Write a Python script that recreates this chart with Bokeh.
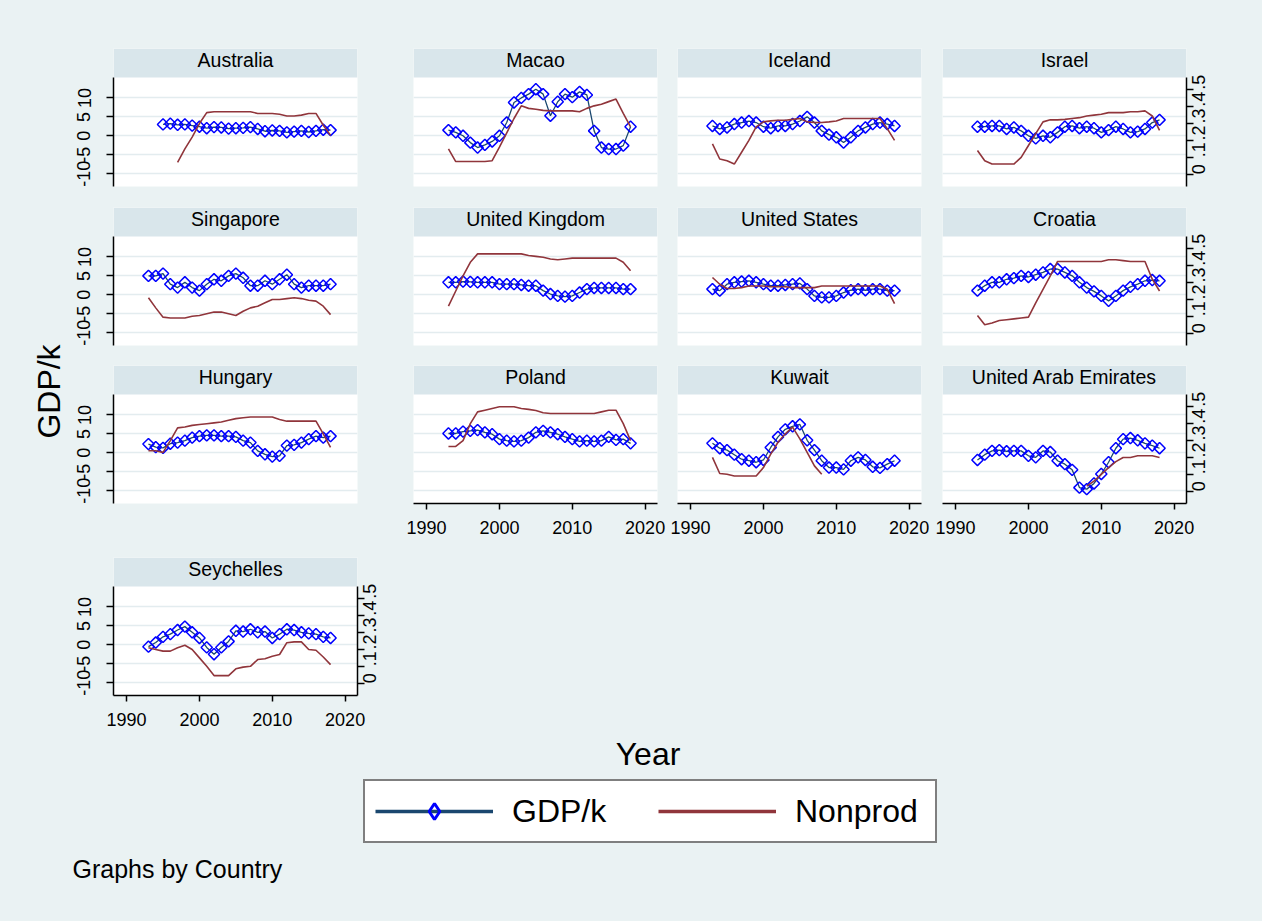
import math
import numpy as np
from bokeh.plotting import figure
from bokeh.models import (Range1d, LinearAxis, FixedTicker, Grid, BoxAnnotation,
                          Legend, LegendItem, ColumnDataSource)
from bokeh.layouts import row, column
from bokeh.embed import file_html
from bokeh.resources import INLINE
from bokeh.core.properties import value

# ---------------- data ----------------
YEARS = [1993, 1994, 1995, 1996, 1997, 1998, 1999, 2000, 2001, 2002, 2003, 2004, 2005,
         2006, 2007, 2008, 2009, 2010, 2011, 2012, 2013, 2014, 2015, 2016, 2017, 2018]

COUNTRIES = ["Australia", "Macao", "Iceland", "Israel",
             "Singapore", "United Kingdom", "United States", "Croatia",
             "Hungary", "Poland", "Kuwait", "United Arab Emirates",
             "Seychelles"]

GDP_AUSTRALIA = [None, None, 3.0, 3.2, 2.9, 3.0, 2.7, 2.4, 2.0, 2.3, 2.2, 1.9, 2.0, 2.1, 2.3, 1.8, 1.2, 1.4, 1.3, 0.9, 1.1, 1.3, 1.0, 1.3, 1.6, 1.5]
NP_AUSTRALIA = [None, None, None, None, 0.07, 0.15, 0.22, 0.30, 0.365, 0.37, 0.37, 0.37, 0.37, 0.37, 0.37, 0.36, 0.36, 0.36, 0.355, 0.345, 0.345, 0.35, 0.36, 0.36, 0.29, 0.23]

GDP_MACAO = [1.5, 0.9, 0.0, -1.8, -3.1, -2.4, -1.5, 0.0, 3.5, 8.8, 10.0, 11.0, 12.3, 11.0, 5.3, 9.0, 11.0, 10.2, 11.6, 10.8, 1.3, -3.1, -3.5, -3.5, -2.6, 2.4]
NP_MACAO = [0.15, 0.075, 0.075, 0.075, 0.075, 0.075, 0.08, 0.16, 0.245, 0.33, 0.405, 0.39, 0.385, 0.378, 0.375, 0.375, 0.375, 0.375, 0.37, 0.39, 0.405, 0.415, 0.43, 0.445, 0.36, 0.28]

GDP_ICELAND = [2.6, 1.8, 2.2, 3.1, 3.5, 3.9, 3.5, 2.4, 2.0, 2.6, 2.6, 3.1, 3.9, 5.0, 3.5, 1.3, 0.3, -0.4, -1.8, -0.4, 1.3, 2.2, 3.1, 3.5, 3.1, 2.6]
NP_ICELAND = [0.18, 0.09, 0.08, 0.06, 0.13, 0.20, 0.28, 0.31, 0.316, 0.32, 0.32, 0.325, 0.33, 0.31, 0.306, 0.306, 0.31, 0.315, 0.33, 0.33, 0.33, 0.33, 0.33, 0.33, 0.27, 0.20]

GDP_ISRAEL = [2.4, 2.4, 2.6, 2.6, 1.8, 2.2, 1.3, 0.0, -0.7, 0.0, -0.4, 0.9, 2.4, 2.6, 2.0, 2.4, 2.0, 0.9, 1.5, 2.4, 1.8, 0.9, 1.1, 1.8, 3.5, 4.2]
NP_ISRAEL = [0.14, 0.08, 0.06, 0.06, 0.06, 0.06, 0.10, 0.17, 0.24, 0.31, 0.322, 0.322, 0.325, 0.33, 0.335, 0.345, 0.35, 0.355, 0.365, 0.365, 0.365, 0.37, 0.37, 0.375, 0.345, 0.26]

GDP_SINGAPORE = [5.0, 5.0, 5.6, 2.8, 1.9, 3.3, 1.9, 1.1, 2.8, 4.1, 3.7, 5.0, 5.6, 4.5, 2.4, 2.4, 3.7, 2.8, 4.1, 5.3, 2.8, 1.9, 2.4, 2.4, 2.4, 2.8]
NP_SINGAPORE = [0.21, 0.15, 0.095, 0.09, 0.09, 0.09, 0.10, 0.105, 0.115, 0.125, 0.125, 0.115, 0.105, 0.13, 0.15, 0.16, 0.18, 0.20, 0.20, 0.205, 0.21, 0.205, 0.195, 0.19, 0.16, 0.11]

GDP_UK = [3.3, 3.3, 3.5, 3.4, 3.3, 3.3, 3.3, 2.8, 2.8, 2.8, 2.6, 2.4, 2.4, 1.1, 0.2, -0.3, -0.5, -0.3, 0.6, 1.5, 1.8, 1.8, 1.8, 1.8, 1.5, 1.5]
NP_UK = [0.16, 0.25, 0.34, 0.42, 0.47, 0.47, 0.47, 0.47, 0.47, 0.47, 0.47, 0.46, 0.455, 0.45, 0.44, 0.435, 0.44, 0.445, 0.445, 0.445, 0.445, 0.445, 0.445, 0.445, 0.42, 0.37]

GDP_US = [1.5, 1.1, 2.8, 3.3, 3.5, 3.7, 3.3, 2.8, 2.4, 2.4, 2.6, 2.8, 3.0, 1.5, -0.3, -0.7, -0.7, -0.3, 0.6, 1.2, 1.5, 1.2, 1.5, 1.5, 1.1, 1.1]
NP_US = [0.33, 0.29, 0.265, 0.265, 0.27, 0.28, 0.28, 0.28, 0.275, 0.275, 0.275, 0.27, 0.27, 0.27, 0.27, 0.28, 0.28, 0.28, 0.28, 0.28, 0.28, 0.28, 0.28, 0.28, 0.26, 0.175]

GDP_CROATIA = [1.1, 2.4, 3.3, 3.3, 4.1, 4.4, 5.0, 4.7, 5.3, 5.9, 6.8, 6.8, 5.9, 5.0, 3.3, 1.9, 0.9, -0.3, -1.6, -0.3, 1.1, 2.1, 2.8, 3.7, 3.9, 3.7]
NP_CROATIA = [0.105, 0.05, 0.06, 0.075, 0.08, 0.085, 0.09, 0.095, 0.18, 0.26, 0.34, 0.425, 0.425, 0.425, 0.425, 0.425, 0.425, 0.425, 0.435, 0.435, 0.43, 0.425, 0.425, 0.425, 0.32, 0.25]

GDP_HUNGARY = [2.3, 1.5, 1.3, 2.4, 2.7, 3.2, 4.0, 4.4, 4.6, 4.6, 4.4, 4.4, 4.2, 3.2, 2.7, 0.5, -0.4, -1.0, -0.8, 1.9, 2.1, 2.7, 3.6, 4.4, 4.0, 4.4]
NP_HUNGARY = [0.24, 0.24, 0.23, 0.30, 0.375, 0.38, 0.39, 0.395, 0.40, 0.405, 0.41, 0.42, 0.43, 0.435, 0.44, 0.44, 0.44, 0.44, 0.425, 0.415, 0.415, 0.415, 0.415, 0.415, 0.34, 0.26]

GDP_POLAND = [5.1, 5.1, 5.6, 5.8, 6.0, 5.4, 4.9, 3.6, 3.2, 3.0, 3.2, 4.0, 5.4, 5.8, 5.4, 4.9, 4.2, 3.6, 3.0, 3.2, 3.0, 3.2, 4.2, 3.4, 3.6, 2.5]
NP_POLAND = [0.265, 0.265, 0.30, 0.40, 0.47, 0.48, 0.49, 0.50, 0.50, 0.50, 0.49, 0.485, 0.478, 0.465, 0.46, 0.46, 0.46, 0.46, 0.46, 0.46, 0.46, 0.47, 0.48, 0.48, 0.40, 0.30]

GDP_KUWAIT = [2.5, 1.2, 0.7, -0.5, -1.7, -2.1, -2.5, -1.9, 1.4, 4.2, 6.2, 7.0, 7.5, 3.3, 0.7, -2.1, -3.9, -3.9, -4.4, -2.1, -1.2, -1.9, -3.7, -4.0, -3.0, -2.1]
NP_KUWAIT = [0.20, 0.105, 0.10, 0.09, 0.09, 0.09, 0.09, 0.14, 0.22, 0.29, 0.34, 0.38, 0.31, 0.23, 0.15, 0.10, None, None, None, None, None, None, None, None, None, None]

GDP_UAE = [-1.9, -0.5, 0.5, 0.7, 0.4, 0.5, 0.5, -0.8, -1.2, 0.5, 0.2, -2.1, -3.0, -4.5, -9.2, -9.6, -8.1, -5.6, -2.5, 1.2, 3.6, 3.9, 3.3, 2.5, 1.9, 1.2]
NP_UAE = [None, None, None, None, None, None, None, None, None, None, None, None, None, None, None, 0.03, 0.06, 0.10, 0.14, 0.175, 0.20, 0.20, 0.21, 0.21, 0.21, 0.20]

GDP_SEYCHELLES = [-0.5, 0.6, 2.1, 2.8, 3.9, 4.8, 3.3, 1.8, -0.7, -2.5, -0.7, 0.9, 3.7, 3.5, 4.1, 3.3, 3.5, 1.8, 2.8, 4.1, 3.9, 3.3, 3.0, 2.8, 2.1, 1.8]
NP_SEYCHELLES = [0.21, 0.20, 0.19, 0.19, 0.21, 0.225, 0.20, 0.15, 0.10, 0.045, 0.045, 0.045, 0.085, 0.095, 0.10, 0.14, 0.145, 0.16, 0.17, 0.24, 0.245, 0.245, 0.20, 0.195, 0.155, 0.11]

GDP = {"Australia": GDP_AUSTRALIA, "Macao": GDP_MACAO, "Iceland": GDP_ICELAND, "Israel": GDP_ISRAEL,
       "Singapore": GDP_SINGAPORE, "United Kingdom": GDP_UK, "United States": GDP_US, "Croatia": GDP_CROATIA,
       "Hungary": GDP_HUNGARY, "Poland": GDP_POLAND, "Kuwait": GDP_KUWAIT, "United Arab Emirates": GDP_UAE,
       "Seychelles": GDP_SEYCHELLES}
NONPROD = {"Australia": NP_AUSTRALIA, "Macao": NP_MACAO, "Iceland": NP_ICELAND, "Israel": NP_ISRAEL,
           "Singapore": NP_SINGAPORE, "United Kingdom": NP_UK, "United States": NP_US, "Croatia": NP_CROATIA,
           "Hungary": NP_HUNGARY, "Poland": NP_POLAND, "Kuwait": NP_KUWAIT, "United Arab Emirates": NP_UAE,
           "Seychelles": NP_SEYCHELLES}

GDP_TICKS = [-10, -5, 0, 5, 10]
GDP_TICK_LABELS = ["-10", "-5", "0", "5", "10"]
NP_TICKS = [0, 0.1, 0.2, 0.3, 0.4, 0.5]
NP_TICK_LABELS = ["0", ".1", ".2", ".3", ".4", ".5"]
YEAR_TICKS = [1990, 2000, 2010, 2020]

SERIES_LABELS = ["GDP/k", "Nonprod"]
X_TITLE = "Year"
Y_TITLE = "GDP/k"
NOTE = "Graphs by Country"

# ---------------- style ----------------
FONT = "Liberation Sans"
BG = "#EAF2F3"
BAR = "#D9E6EB"
GRID = "#E3ECEF"
NAVY = "#1A476F"
MAROON = "#90353B"
BLUE = "#0000FF"
INK = "#000000"

X_LO, X_HI = 1988.2, 2021.7
G_LO, G_HI = -13.4, 15.4
N_LO, N_HI = -0.073, 0.573
PLOT_H, BAR_H = 109, 29
G_PX = (G_HI - G_LO) / PLOT_H
N_PX = (N_HI - N_LO) / PLOT_H


def arr(v):
    return np.array([np.nan if a is None else a for a in v], dtype=float)


def overrides_for(ticks, labels):
    out = {}
    for t, lab in zip(ticks, labels):
        out[t] = lab
    return out


def style_axis(ax, tick_out, standoff):
    ax.axis_line_color = INK
    ax.axis_line_width = 1.5
    ax.major_tick_line_color = INK
    ax.major_tick_line_width = 1.5
    ax.major_tick_in = 0
    ax.major_tick_out = tick_out
    ax.minor_tick_line_color = None
    ax.major_label_text_font = FONT
    ax.major_label_text_font_size = "18px"
    ax.major_label_text_color = INK
    ax.major_label_standoff = standoff


def panel(name, w, h, bl, br, bt, bb, left=False, right=False, bottom=False):
    p = figure(width=w, height=h, title=None,
               x_range=Range1d(X_LO, X_HI), y_range=Range1d(G_LO, G_HI + BAR_H * G_PX),
               x_axis_location=None, y_axis_location=None, toolbar_location=None,
               output_backend="svg",
               min_border_left=bl, min_border_right=br, min_border_top=bt, min_border_bottom=bb,
               background_fill_color="white", border_fill_color=BG, outline_line_color=None)
    p.center = []
    p.extra_y_ranges = {"np": Range1d(N_LO, N_HI + BAR_H * N_PX)}
    p.add_layout(BoxAnnotation(bottom=G_HI, fill_color=BAR, fill_alpha=1.0, line_color=None,
                               level="underlay"))
    p.add_layout(Grid(dimension=1, ticker=FixedTicker(ticks=GDP_TICKS),
                      grid_line_color=GRID, grid_line_width=1.3))
    p.text(x=[(X_LO + X_HI) / 2], y=[G_HI + 17.3 * G_PX], text=[name],
           text_align="center", text_baseline="middle",
           text_font=value(FONT), text_font_size="19.5px", text_color=INK)

    src = ColumnDataSource(dict(year=np.array(YEARS, dtype=float),
                                gdp=arr(GDP[name]), nonprod=arr(NONPROD[name])))
    p.line("year", "gdp", source=src, line_color=NAVY, line_width=1.3)
    p.scatter("year", "gdp", source=src, marker="square", angle=math.pi / 4, size=8,
              fill_color=None, line_color=BLUE, line_width=1.5)
    p.line("year", "nonprod", source=src, y_range_name="np", line_color=MAROON, line_width=1.6)

    if left:
        ax = LinearAxis(ticker=FixedTicker(ticks=GDP_TICKS), bounds=(G_LO, G_HI),
                        major_label_orientation="vertical",
                        major_label_overrides=overrides_for(GDP_TICKS, GDP_TICK_LABELS))
        style_axis(ax, 7, 16)
        p.add_layout(ax, "left")
    if right:
        ax = LinearAxis(y_range_name="np", ticker=FixedTicker(ticks=NP_TICKS),
                        bounds=(N_LO, N_HI), major_label_orientation=math.pi / 2,
                        major_label_overrides=overrides_for(NP_TICKS, NP_TICK_LABELS))
        style_axis(ax, 7, 5)
        p.add_layout(ax, "right")
    if bottom:
        ax = LinearAxis(ticker=FixedTicker(ticks=YEAR_TICKS))
        style_axis(ax, 6, 11)
        p.add_layout(ax, "below")
    return p


def blank(w, h):
    p = figure(width=w, height=h, title=None, x_range=Range1d(0, w), y_range=Range1d(0, h),
               x_axis_location=None, y_axis_location=None, toolbar_location=None,
               output_backend="svg", min_border=0,
               background_fill_color=BG, border_fill_color=BG, outline_line_color=None)
    p.center = []
    return p


# column geometry: (width, left border, right border)
COLS = [(315, 43, 28), (282, 28, 10), (264, 10, 10), (331, 11, 76)]
# row geometry: (height, top border, bottom border)
ROWS = [(196, 48, 10), (159, 11, 10), (191, 10, 43)]

grid_rows = []
for r in range(3):
    h, bt, bb = ROWS[r]
    figs = []
    for c in range(4):
        w, bl, br = COLS[c]
        name = COUNTRIES[r * 4 + c]
        figs.append(panel(name, w, h, bl, br, bt, bb,
                          left=(c == 0), right=(c == 3), bottom=(r == 2 and c > 0)))
    grid_rows.append(row(*figs, spacing=0))

ytitle = blank(70, 546)
ytitle.text(x=[48], y=[155], text=[Y_TITLE], angle=math.pi / 2,
            text_align="center", text_baseline="middle",
            text_font=value(FONT), text_font_size="32px", text_color=INK)

top = row(ytitle, column(*grid_rows, spacing=0), spacing=0)

sey = panel("Seychelles", 395, 186, 113, 38, 11, 37, left=True, right=True, bottom=True)
filler = blank(867, 186)
r4 = row(sey, filler, spacing=0)

footer = blank(1262, 189)
footer.text(x=[647.5], y=[167.6], text=[X_TITLE], text_align="center", text_baseline="middle",
            text_font=value(FONT), text_font_size="32px", text_color=INK)
footer.text(x=[72], y=[52.5], text=[NOTE], text_align="left", text_baseline="middle",
            text_font=value(FONT), text_font_size="25px", text_color=INK)

dummy = ColumnDataSource(dict(x=np.array([np.nan]), y=np.array([np.nan])))
lg_line = footer.line("x", "y", source=dummy, line_color=NAVY, line_width=3.3)
lg_mark = footer.scatter("x", "y", source=dummy, marker="diamond", size=15,
                         fill_color=None, line_color=BLUE, line_width=3)
lg_np = footer.line("x", "y", source=dummy, line_color=MAROON, line_width=3.3)
legend = Legend(items=[LegendItem(label=SERIES_LABELS[0], renderers=[lg_line, lg_mark]),
                       LegendItem(label=SERIES_LABELS[1], renderers=[lg_np])],
                location=(363, 78), orientation="horizontal",
                glyph_width=118, glyph_height=40, label_standoff=19, label_width=130,
                spacing=16, padding=10, margin=0,
                label_text_font=FONT, label_text_font_size="32px", label_text_color=INK,
                border_line_color=INK, border_line_width=2,
                background_fill_color="white", background_fill_alpha=1.0)
footer.add_layout(legend)

layout = column(top, r4, footer, spacing=0, styles={"background-color": BG})

open("out.html", "w").write(file_html(layout, INLINE))
